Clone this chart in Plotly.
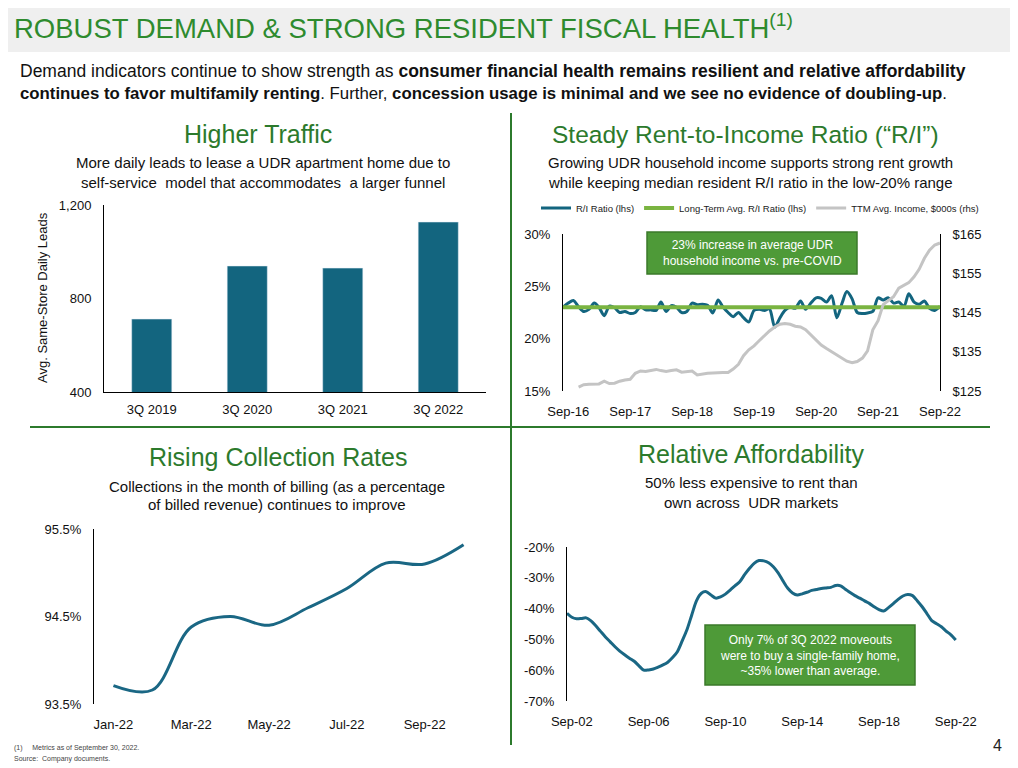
import plotly.graph_objects as go
import pandas as pd

W, H = 1018, 768
OX, OY = 8, 8  # page body margin offset compensation
TXT = "Liberation Sans, Arial, sans-serif"
TICKF = "Liberation Sans, Arial, sans-serif"
GREEN_T = "#2e8b2e"
GREEN_D = "#2c7a2c"
TEAL = "#13657f"

# ---------------- data ----------------
lead_quarters = ["3Q 2019", "3Q 2020", "3Q 2021", "3Q 2022"]
lead_values = [712, 939, 930, 1127]
lead_ticks = [400, 800, 1200]

ri_dates = pd.date_range("2016-08-01", periods=74, freq="MS")
ri_ratio = [23.0, 23.4, 23.65, 23.05, 22.6, 22.8, 23.4, 23.0, 22.2, 23.1,
            22.95, 22.5, 22.6, 22.4, 22.5, 23.05, 22.75, 22.75, 22.7, 23.5,
            22.6, 23.15, 23.0, 22.5, 22.6, 23.4, 23.25, 23.3, 23.2, 22.45,
            23.7, 23.05, 22.5, 22.1, 22.5, 22.0, 21.6, 22.7, 22.8, 22.7,
            22.85, 21.1, 22.0, 22.7, 23.0, 22.9, 23.6, 22.8, 23.4, 23.9,
            23.85, 23.5, 24.1, 22.0, 23.4, 24.5, 23.8, 22.5, 22.4, 22.45,
            22.6, 23.9, 23.7, 23.9, 23.4, 23.5, 23.1, 24.3, 23.5, 23.3,
            23.6, 22.9, 22.7, 23.1]
lt_avg_ratio = 23.0
ttm_income = [None, None, None,
              126.0, 126.6, 126.7, 126.7, 126.8, 127.5, 126.9, 127.0, 127.5, 127.8,
              128.0, 129.5, 130.1, 130.0, 130.2, 130.5, 130.2, 130.0, 130.2, 130.4,
              129.8, 130.0, 130.1, 129.1, 129.4, 129.5, 129.6, 129.7, 129.7, 129.7,
              130.6, 131.8, 134.0, 135.5, 136.5, 137.8, 139.1, 140.3, 141.3, 142.0,
              142.2, 142.0, 141.5, 141.3, 140.6, 139.3, 137.9, 136.7, 135.8, 135.0,
              134.1, 133.3, 132.6, 132.2, 132.5, 133.4, 135.2, 140.6, 142.9, 147.0,
              148.0, 149.0, 151.2, 152.0, 152.6, 154.1, 156.0, 158.8, 160.9, 162.2,
              162.7]
ri_left_ticks = [15, 20, 25, 30]
ri_right_ticks = [125, 135, 145, 155, 165]
ri_tick_dates = ["2016-09-01", "2017-09-01", "2018-09-01", "2019-09-01",
                 "2020-09-01", "2021-09-01", "2022-09-01"]
ri_tick_text = ["Sep-16", "Sep-17", "Sep-18", "Sep-19", "Sep-20", "Sep-21", "Sep-22"]

coll_months = ["Jan-22", "Feb-22", "Mar-22", "Apr-22", "May-22",
               "Jun-22", "Jul-22", "Aug-22", "Sep-22", "Oct-22"]
coll_values = [93.71, 93.66, 94.38, 94.50, 94.40, 94.60, 94.82, 95.11, 95.10, 95.32]
coll_ticks = [93.5, 94.5, 95.5]

aff_dates = pd.date_range("2002-06-01", periods=82, freq="3MS") + pd.Timedelta(days=14)
aff_values = [-41.5, -42.8, -43.3,
              -43.2, -43.0, -44.0, -45.6,
              -47.4, -49.2, -50.8, -52.4,
              -53.8, -55.0, -56.1, -57.1,
              -58.6, -60.0, -59.9, -59.6,
              -59.0, -58.3, -57.4, -55.9,
              -54.0, -50.5, -46.8, -42.0,
              -37.4, -35.0, -34.5, -35.6,
              -36.6, -36.2, -35.3, -34.0,
              -32.6, -31.3, -29.0, -27.0,
              -25.3, -24.4, -24.5, -25.1,
              -26.4, -28.4, -31.0, -33.4,
              -34.9, -35.6, -35.2, -34.7,
              -34.1, -33.8, -33.5, -33.3,
              -33.1, -32.5, -32.6, -33.7,
              -34.8, -35.8, -36.6, -37.5,
              -38.3, -39.4, -40.3, -40.8,
              -39.7, -38.4, -37.0, -35.9,
              -35.4, -35.8, -37.5, -39.4,
              -41.6, -43.9, -44.9, -45.9,
              -47.3, -48.5, -50.2]
aff_ticks = [-70, -60, -50, -40, -30, -20]
aff_tick_dates = ["2002-09-15", "2006-09-15", "2010-09-15", "2014-09-15",
                  "2018-09-15", "2022-09-15"]
aff_tick_text = ["Sep-02", "Sep-06", "Sep-10", "Sep-14", "Sep-18", "Sep-22"]


def px(x):
    return (x - OX) / W


def py(y):
    return 1 - (y - OY) / H


def dx(a, b):
    return [px(a), px(b)]


def dy(top, bot):
    return [py(bot), py(top)]


fig = go.Figure()

# Panel 1 - bars
fig.add_trace(go.Bar(x=lead_quarters, y=lead_values, marker_color=TEAL,
                     xaxis="x", yaxis="y", showlegend=False))

# Panel 2 - R/I (income drawn first so it sits behind)
fig.add_trace(go.Scatter(x=ri_dates, y=ttm_income, mode="lines",
                         name="TTM Avg. Income, $000s (rhs)", legendrank=3,
                         line=dict(color="#c4c4c4", width=3), xaxis="x2", yaxis="y5"))
fig.add_trace(go.Scatter(x=ri_dates, y=ri_ratio, mode="lines", name="R/I Ratio (lhs)",
                         legendrank=1,
                         line=dict(color=TEAL, width=3, shape="spline", smoothing=0.8),
                         xaxis="x2", yaxis="y2"))
fig.add_trace(go.Scatter(x=[ri_dates[0], ri_dates[-1]], y=[lt_avg_ratio, lt_avg_ratio],
                         mode="lines", name="Long-Term Avg. R/I Ratio (lhs)", legendrank=2,
                         line=dict(color="#7ab441", width=4), xaxis="x2", yaxis="y2"))

# Panel 3 - collections
fig.add_trace(go.Scatter(x=coll_months, y=coll_values, mode="lines",
                         line=dict(color="#1a6784", width=3, shape="spline", smoothing=1.0),
                         xaxis="x3", yaxis="y3", showlegend=False))

# Panel 4 - affordability
fig.add_trace(go.Scatter(x=aff_dates, y=aff_values, mode="lines",
                         line=dict(color="#1a6784", width=3, shape="spline", smoothing=0.8),
                         xaxis="x4", yaxis="y4", showlegend=False))

tickfont = dict(family=TICKF, size=13, color="#111")
NT = "rgba(0,0,0,0)"

common_y = dict(showline=True, linecolor="#000", linewidth=1, showgrid=False, zeroline=False,
                tickfont=tickfont, ticks="outside", tickcolor=NT, ticklen=9, automargin=False)
common_x = dict(showgrid=False, tickfont=tickfont, ticks="outside", tickcolor=NT,
                ticklen=8, automargin=False, zeroline=False)

fig.update_layout(
    width=W, height=H, margin=dict(l=0, r=0, t=0, b=0, autoexpand=False),
    paper_bgcolor="white", plot_bgcolor="rgba(0,0,0,0)",
    bargap=0.58,
    showlegend=True,
    legend=dict(orientation="h", x=px(536), y=py(208), xanchor="left", yanchor="middle",
                font=dict(family=TXT, size=9.5, color="#222"), bgcolor="rgba(0,0,0,0)",
                itemwidth=30, tracegroupgap=0, traceorder="normal"),
    xaxis=dict(domain=dx(104, 486), showline=True, linecolor="#000", linewidth=1,
               **{k: v for k, v in common_x.items() if k != "ticklen"}, ticklen=5),
    yaxis=dict(domain=dy(205, 392), range=[400, 1200], tickvals=lead_ticks,
               ticktext=[f"{v:,}" for v in lead_ticks], **common_y),
    xaxis2=dict(domain=dx(563, 940), type="date", range=["2016-08-01", "2022-09-01"],
                anchor="y2", tickvals=ri_tick_dates, ticktext=ri_tick_text,
                showline=False, **common_x),
    yaxis2=dict(domain=dy(234, 391), range=[15, 30], tickvals=ri_left_ticks,
                ticktext=[f"{v}%" for v in ri_left_ticks], anchor="x2", **common_y),
    yaxis5=dict(domain=dy(234, 391), range=[125, 165], tickvals=ri_right_ticks,
                ticktext=[f"${v}" for v in ri_right_ticks],
                overlaying="y2", side="right", anchor="x2", **common_y),
    xaxis3=dict(domain=dx(94, 483), type="category", range=[-0.5, 9.5], anchor="y3",
                tickvals=coll_months[::2], showline=False, **common_x),
    yaxis3=dict(domain=dy(529, 704), range=[93.5, 95.5], tickvals=coll_ticks,
                ticktext=[f"{v:.1f}%" for v in coll_ticks], anchor="x3", **common_y),
    xaxis4=dict(domain=dx(567, 960), type="date", range=["2002-06-15", "2022-12-05"],
                anchor="y4", tickvals=aff_tick_dates, ticktext=aff_tick_text,
                showline=False, **common_x),
    yaxis4=dict(domain=dy(547, 701), range=[-70, -20], tickvals=aff_ticks,
                ticktext=[f"{v}%" for v in aff_ticks], anchor="x4", **common_y),
)

shapes = [
    dict(type="rect", xref="paper", yref="paper", x0=0, x1=1, y0=py(52), y1=1,
         fillcolor="#efefef", line=dict(width=0), layer="below"),
    dict(type="line", xref="paper", yref="paper", x0=px(511), x1=px(511),
         y0=py(745), y1=py(113), line=dict(color=GREEN_D, width=2)),
    dict(type="line", xref="paper", yref="paper", x0=px(30), x1=px(990),
         y0=py(427), y1=py(427), line=dict(color=GREEN_D, width=2)),
    dict(type="rect", xref="paper", yref="paper", x0=px(647), x1=px(857),
         y0=py(274), y1=py(232), fillcolor="#4e9a38",
         line=dict(color="#3b7a2a", width=1.5), layer="above"),
    dict(type="rect", xref="paper", yref="paper", x0=px(705), x1=px(915),
         y0=py(685), y1=py(625), fillcolor="#4e9a38",
         line=dict(color="#3b7a2a", width=1.5), layer="above"),
]
fig.update_layout(shapes=shapes)


def txt(x, y, text, size, color="#111", family=TXT, xanchor="center", **kw):
    fig.add_annotation(x=px(x), y=py(y), xref="paper", yref="paper", text=text,
                       showarrow=False, xanchor=xanchor, yanchor="middle",
                       font=dict(family=family, size=size, color=color), **kw)


txt(12, 26, "ROBUST DEMAND &amp; STRONG RESIDENT FISCAL HEALTH<sup>(1)</sup>", 27.5,
    color=GREEN_T, xanchor="left")
txt(18, 71, "Demand indicators continue to show strength as <b>consumer financial health "
            "remains resilient and relative affordability</b>", 17.5, xanchor="left")
txt(18, 94, "<b>continues to favor multifamily renting</b>. Further, <b>concession usage is "
            "minimal and we see no evidence of doubling-up</b>.", 16.8, xanchor="left")

txt(258, 134, "Higher Traffic", 25, color=GREEN_D)
txt(263, 162, "More daily leads to lease a UDR apartment home due to", 15)
txt(263, 182, "self-service  model that accommodates  a larger funnel", 15)
txt(745, 134, "Steady Rent-to-Income Ratio (“R/I”)", 24.5, color=GREEN_D)
txt(750, 162, "Growing UDR household income supports strong rent growth", 15)
txt(750, 182, "while keeping median resident R/I ratio in the low-20% range", 15)
txt(278, 457, "Rising Collection Rates", 25, color=GREEN_D)
txt(277, 486, "Collections in the month of billing (as a percentage", 15)
txt(277, 504, "of billed revenue) continues to improve", 15)
txt(751, 454, "Relative Affordability", 25, color=GREEN_D)
txt(751, 482, "50% less expensive to rent than", 15)
txt(751, 502, "own across  UDR markets", 15)

txt(42, 298, "Avg. Same-Store Daily Leads", 13, family=TICKF, textangle=-90)

txt(752, 253, "23% increase in average UDR<br>household income vs. pre-COVID", 12,
    color="white", family=TICKF)
txt(810, 655, "Only 7% of 3Q 2022 moveouts<br>were to buy a single-family home,<br>"
              "~35% lower than average.", 12, color="white", family=TICKF)

txt(997, 745, "4", 16, family=TICKF, color="#222")
txt(12, 748, "(1)     Metrics as of September 30, 2022.", 7, family=TICKF, color="#444",
    xanchor="left")
txt(12, 759, "Source:  Company documents.", 7, family=TICKF, color="#444", xanchor="left")

fig.write_html("out.html")
